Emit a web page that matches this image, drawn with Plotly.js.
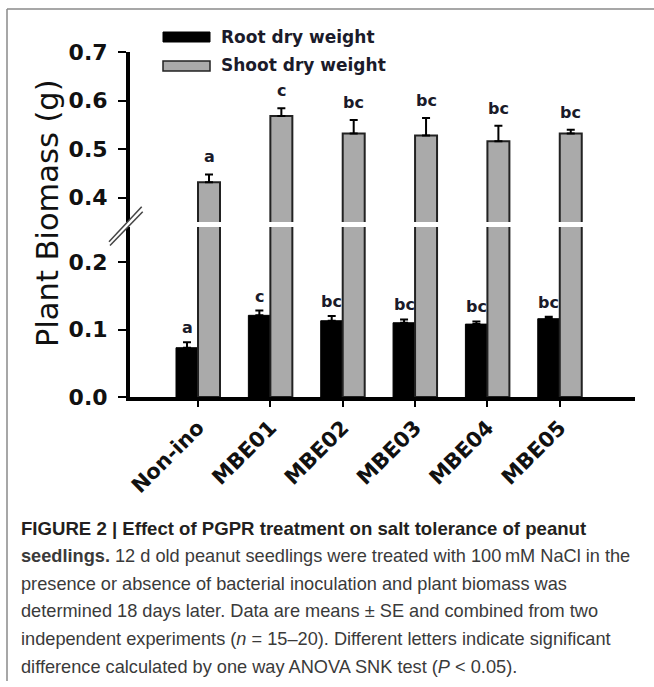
<!DOCTYPE html>
<html>
<head>
<meta charset="utf-8">
<script src="https://cdn.plot.ly/plotly-3.0.1.min.js"></script>
<style>html,body{margin:0;padding:0;background:#fff;}#chart{width:654px;height:687px;}</style>
</head>
<body>
<div id="chart"></div>
<script>
const categories = ['Non-ino', 'MBE01', 'MBE02', 'MBE03', 'MBE04', 'MBE05'];
const rootMean = [0.073, 0.121, 0.113, 0.110, 0.108, 0.116];
const rootSE = [0.008, 0.007, 0.007, 0.005, 0.004, 0.003];
const shootMean = [0.432, 0.568, 0.532, 0.528, 0.516, 0.532];
const shootSE = [0.016, 0.016, 0.028, 0.036, 0.032, 0.008];
const rootLetters = ['a', 'c', 'bc', 'bc', 'bc', 'bc'];
const shootLetters = ['a', 'c', 'bc', 'bc', 'bc', 'bc'];
const lowerTicks = [0.0, 0.1, 0.2];
const upperTicks = [0.4, 0.5, 0.6, 0.7];
const seriesNames = ['Root dry weight', 'Shoot dry weight'];
const captionLines = [
  '<b>FIGURE 2 | Effect of PGPR treatment on salt tolerance of peanut</b>',
  '<b>seedlings.</b> 12 d old peanut seedlings were treated with 100\u2009mM NaCl in the',
  'presence or absence of bacterial inoculation and plant biomass was',
  'determined 18 days later. Data are means \u00b1 SE and combined from two',
  'independent experiments (<i>n</i> = 15\u201320). Different letters indicate significant',
  'difference calculated by one way ANOVA SNK test (<i>P</i> < 0.05).'
];

// layout geometry (pixels)
const W = 654, H = 687;
const L = 130, R = 635, T = 52, B = 397;
const X = px => (px - L) / (R - L);
const Y = py => (B - py) / (B - T);

const BW = 0.304;
const rootColor = '#000000';
const shootColor = '#aaaaaa';
const outline = '#222222';
const zeros = categories.map(() => 0);

const traces = [
  {type: 'bar', name: seriesNames[0], x: categories, y: rootMean, xaxis: 'x', yaxis: 'y',
   offset: -BW, width: BW, marker: {color: rootColor, line: {color: '#000', width: 1}},
   error_y: {type: 'data', symmetric: false, array: rootSE, arrayminus: zeros, color: '#000', thickness: 2, width: 4},
   showlegend: false, hoverinfo: 'x+y'},
  {type: 'bar', name: seriesNames[1], x: categories, y: shootMean, xaxis: 'x', yaxis: 'y',
   offset: 0, width: BW, marker: {color: shootColor, line: {color: outline, width: 2}},
   showlegend: false, hoverinfo: 'x+y'},
  {type: 'bar', name: seriesNames[1], x: categories, y: shootMean, xaxis: 'x', yaxis: 'y2',
   offset: 0, width: BW, marker: {color: shootColor, line: {color: outline, width: 2}},
   error_y: {type: 'data', symmetric: false, array: shootSE, arrayminus: zeros, color: '#000', thickness: 2, width: 4},
   showlegend: false, hoverinfo: 'x+y'}
];

const tickFont = {family: 'DejaVu Sans', size: 22, color: '#111'};
const annotations = [];
categories.forEach((c, i) => {
  annotations.push({x: i - BW / 2, y: rootMean[i] + rootSE[i], xref: 'x', yref: 'y', text: '<b>' + rootLetters[i] + '</b>',
    showarrow: false, yanchor: 'bottom', yshift: 3, font: {family: 'DejaVu Sans', size: 16, color: '#1b1b2a'}});
  annotations.push({x: i + BW / 2, y: shootMean[i] + shootSE[i], xref: 'x', yref: 'y2', text: '<b>' + shootLetters[i] + '</b>',
    showarrow: false, yanchor: 'bottom', yshift: 6, font: {family: 'DejaVu Sans', size: 16, color: '#1b1b2a'}});
});
// y-axis title
annotations.push({x: X(47), y: Y(213), xref: 'paper', yref: 'paper', text: 'Plant Biomass (g)', textangle: -90,
  showarrow: false, xanchor: 'center', yanchor: 'middle', font: {family: 'DejaVu Sans', size: 30.5, color: '#111'}});
// legend texts
annotations.push({x: X(219), y: Y(37), xref: 'paper', yref: 'paper', text: '<b>' + seriesNames[0] + '</b>', showarrow: false,
  xanchor: 'left', yanchor: 'middle', font: {family: 'DejaVu Sans', size: 17, color: '#1b1b2a'}});
annotations.push({x: X(219), y: Y(65), xref: 'paper', yref: 'paper', text: '<b>' + seriesNames[1] + '</b>', showarrow: false,
  xanchor: 'left', yanchor: 'middle', font: {family: 'DejaVu Sans', size: 17, color: '#1b1b2a'}});
// caption
const capY = [528, 556, 584, 611, 639, 667];
captionLines.forEach((t, k) => {
  annotations.push({x: X(19), y: Y(capY[k]), xref: 'paper', yref: 'paper', text: t, showarrow: false,
    xanchor: 'left', yanchor: 'middle', font: {family: 'Liberation Sans', size: k === 0 ? 18.6 : 18.2, color: k === 0 ? '#231f20' : '#3a3a3a'}});
});

const shapes = [
  // frame lines
  {type: 'line', xref: 'paper', yref: 'paper', x0: X(7), x1: X(654), y0: Y(9), y1: Y(9), line: {color: '#8a8a8a', width: 1.5}},
  {type: 'line', xref: 'paper', yref: 'paper', x0: X(7), x1: X(7), y0: Y(9), y1: Y(681), line: {color: '#8a8a8a', width: 1.5}},
  // legend swatches
  {type: 'rect', xref: 'paper', yref: 'paper', x0: X(163), x1: X(210), y0: Y(42), y1: Y(32), fillcolor: rootColor, line: {color: '#000', width: 1}},
  {type: 'rect', xref: 'paper', yref: 'paper', x0: X(163), x1: X(210), y0: Y(71), y1: Y(61), fillcolor: shootColor, line: {color: outline, width: 1.5}},
  // axis break marks
  {type: 'path', xref: 'paper', yref: 'paper',
   path: 'M' + X(109) + ',' + Y(241.7) + ' L' + X(141.7) + ',' + Y(206.7) + ' L' + X(142.7) + ',' + Y(211.7) + ' L' + X(110) + ',' + Y(245.5) + ' Z',
   fillcolor: '#ffffff', line: {width: 0}},
  {type: 'line', xref: 'paper', yref: 'paper', x0: X(109), y0: Y(241.7), x1: X(141.7), y1: Y(206.7), line: {color: '#444', width: 1.5}},
  {type: 'line', xref: 'paper', yref: 'paper', x0: X(110), y0: Y(245.5), x1: X(142.7), y1: Y(211.7), line: {color: '#444', width: 1.5}}
];

const layout = {
  width: W, height: H,
  margin: {l: L, r: W - R, t: T, b: H - B, pad: 0},
  paper_bgcolor: '#fff', plot_bgcolor: '#fff',
  barmode: 'overlay',
  showlegend: false,
  xaxis: {type: 'category', range: [-0.94, 6.04], showline: true, linecolor: '#000', linewidth: 4,
    ticks: 'outside', ticklen: 6, tickwidth: 2, tickcolor: '#000', tickangle: -45,
    tickfont: {family: 'DejaVu Sans', size: 21, color: '#111'}, showgrid: false, zeroline: false,
    anchor: 'y', fixedrange: true, tickprefix: '<b>', ticksuffix: '</b>'},
  yaxis: {domain: [0, Y(227)], range: [0, 0.2519], tickvals: lowerTicks, ticktext: lowerTicks.map(v => '<b>' + v.toFixed(1) + '</b>'),
    showline: true, linecolor: '#000', linewidth: 4, ticks: 'outside', ticklen: 8, tickwidth: 2, tickcolor: '#000',
    ticklabelstandoff: 6,
    tickfont: tickFont, showgrid: false, zeroline: false, anchor: 'x', fixedrange: true},
  yaxis2: {domain: [Y(222), 1], range: [0.35, 0.7], tickvals: upperTicks, ticktext: upperTicks.map(v => '<b>' + v.toFixed(1) + '</b>'),
    showline: true, linecolor: '#000', linewidth: 4, ticks: 'outside', ticklen: 8, tickwidth: 2, tickcolor: '#000',
    ticklabelstandoff: 6,
    tickfont: tickFont, showgrid: false, zeroline: false, anchor: 'x', fixedrange: true},
  annotations: annotations,
  shapes: shapes
};

Plotly.newPlot('chart', traces, layout, {displayModeBar: false, staticPlot: true});
</script>
</body>
</html>
